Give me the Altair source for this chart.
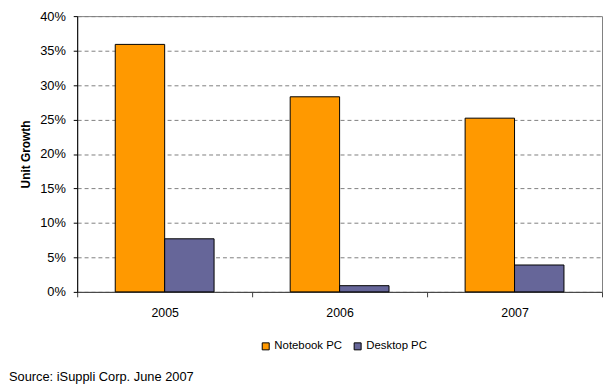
import altair as alt
import pandas as pd

years = ["2005", "2006", "2007"]
series = ["Notebook PC", "Desktop PC"]
notebook = [0.359, 0.283, 0.252]
desktop = [0.077, 0.009, 0.039]
y_ticks = [0, 0.05, 0.10, 0.15, 0.20, 0.25, 0.30, 0.35, 0.40]
colors = ["#FF9900", "#666699"]

rows = []
for i, yr in enumerate(years):
    rows.append({"year": yr, "series": series[0], "value": notebook[i]})
    rows.append({"year": yr, "series": series[1], "value": desktop[i]})
df = pd.DataFrame(rows)

FONT = "Liberation Sans"

chart = alt.Chart(df).mark_bar(stroke="black", strokeWidth=1).encode(
    x=alt.X("year:N", sort=years,
            scale=alt.Scale(paddingInner=0, paddingOuter=0),
            axis=alt.Axis(title=None, labelAngle=0, grid=False, tickBand="extent",
                          domainColor="#404040", tickColor="#404040", tickSize=5,
                          labelPadding=10, labelFontSize=12.5, labelFont=FONT,
                          labelColor="black")),
    xOffset=alt.XOffset("series:N", sort=series,
                        scale=alt.Scale(paddingInner=0, paddingOuter=0.77)),
    y=alt.Y("value:Q", scale=alt.Scale(domain=[0, 0.4], nice=False),
            axis=alt.Axis(title="Unit Growth", format=".0%", values=y_ticks,
                          ticks=True, tickSize=4, tickColor="black",
                          labelPadding=8, labelFontSize=13, labelFont=FONT,
                          labelColor="black", domainColor="black",
                          grid=True, gridColor="#808080", gridDash=[4, 3], gridWidth=1,
                          titleFont=FONT, titleFontSize=12, titleFontWeight="bold",
                          titlePadding=7, titleColor="black")),
    color=alt.Color("series:N", sort=series,
                    scale=alt.Scale(domain=series, range=colors),
                    legend=alt.Legend(title=None, orient="none", direction="horizontal",
                                      legendX=185, legendY=328,
                                      symbolType="square", symbolSize=50,
                                      symbolStrokeColor="black", symbolStrokeWidth=1,
                                      labelFont=FONT, labelFontSize=11.5, labelColor="black",
                                      columnPadding=10, labelOffset=3)),
).properties(
    width=531, height=279,
    padding={"left": 0, "top": 0, "right": 0, "bottom": 0},
    title=alt.TitleParams("Source: iSuppli Corp. June 2007", orient="bottom", anchor="start",
                          frame="bounds", font=FONT, fontSize=13, fontWeight="normal",
                          color="black", offset=19, dx=-11),
).configure_view(stroke="#808080", strokeWidth=1)

chart.save("out.html", embed_options={"renderer": "svg", "actions": False})
